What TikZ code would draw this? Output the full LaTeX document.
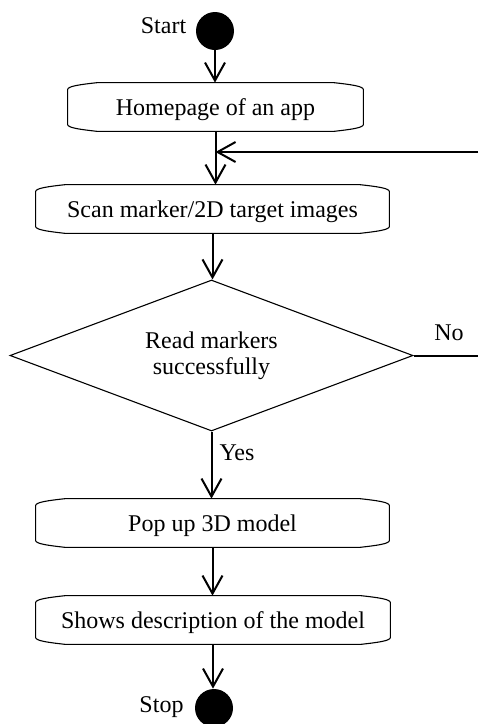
\documentclass[tikz,border=0pt]{standalone}
\usepackage{fontspec}
\setmainfont{Liberation Serif}
\usetikzlibrary{shapes.geometric,arrows.meta}
\tikzset{
  arr/.style={line width=1pt,-{Straight Barb[length=9pt,width=10pt,line width=1pt]}},
  plainline/.style={line width=1pt},
  outline/.style={line width=0.55pt},
  actbox/.style={rectangle,draw=none,inner sep=0pt,minimum width=#1,minimum height=24pt,
    text height=8pt,text depth=0pt,font=\fontsize{12}{13}\selectfont},
  dot/.style={circle,fill=black,draw=none,minimum size=19pt,inner sep=0pt},
  lbl/.style={inner sep=0pt,font=\fontsize{12}{13}\selectfont},
  decision/.style={diamond,draw,line width=0.55pt,inner sep=0pt,aspect=2.67,
    minimum width=201.5pt,minimum height=75.5pt,align=center,font=\fontsize{12}{13}\selectfont}
}
\newcommand\drawactbox[1]{%
  \draw[outline] ([yshift=-3.5pt]#1.north west)
   .. controls ([yshift=-1.8pt]#1.north west) and ([xshift=6pt,yshift=-1pt]#1.north west) .. ([xshift=15pt]#1.north west)
   -- ([xshift=-15pt]#1.north east)
   .. controls ([xshift=-6pt,yshift=-1pt]#1.north east) and ([yshift=-1.8pt]#1.north east) .. ([yshift=-3.5pt]#1.north east)
   -- ([yshift=3.5pt]#1.south east)
   .. controls ([yshift=1.8pt]#1.south east) and ([xshift=-6pt,yshift=1pt]#1.south east) .. ([xshift=-15pt]#1.south east)
   -- ([xshift=15pt]#1.south west)
   .. controls ([xshift=6pt,yshift=1pt]#1.south west) and ([yshift=1.8pt]#1.south west) .. ([yshift=3.5pt]#1.south west)
   -- cycle;}
\begin{document}
\begin{tikzpicture}[x=0.5pt,y=-0.5pt]
\clip (0,0) rectangle (478,724);
% nodes
\node[dot] (start) at (215,31) {};
\node[lbl] (startlbl) at (163.5,26) {Start};
\node[actbox=147.5pt] (b1) at (215.5,107) {Homepage of an app};
\node[actbox=176.5pt] (b2) at (212.5,209) {Scan marker/2D target images};
\node[decision] (d) at (211.5,355.5) {Read markers\\successfully};
\node[lbl] (nolbl) at (449,333) {No};
\node[lbl] (yeslbl) at (237,453) {Yes};
\node[actbox=176.5pt] (b3) at (212.5,523) {Pop up 3D model};
\node[actbox=177pt] (b4) at (213,620) {Shows description of the model};
\node[dot] (stop) at (214,708) {};
\node[lbl] (stoplbl) at (161.5,707.5) {Stop};
\coordinate (fbR) at (478,152);
\coordinate (noR) at (478,355.5);
% outlines
\drawactbox{b1}
\drawactbox{b2}
\drawactbox{b3}
\drawactbox{b4}
% connectors
\draw[arr] (start.south) -- (start.south |- b1.north);
\draw[arr] (b1.south) -- (b1.south |- b2.north);
\draw[arr] (fbR) -- (fbR -| b1.south);
\draw[arr] (b2.south) -- (b2.south |- d.north);
\draw[plainline] (d.east) -- (noR);
\draw[arr] (d.south) -- (d.south |- b3.north);
\draw[arr] (b3.south) -- (b3.south |- b4.north);
\draw[arr] (b4.south) -- (b4.south |- stop.north);
\end{tikzpicture}
\end{document}
